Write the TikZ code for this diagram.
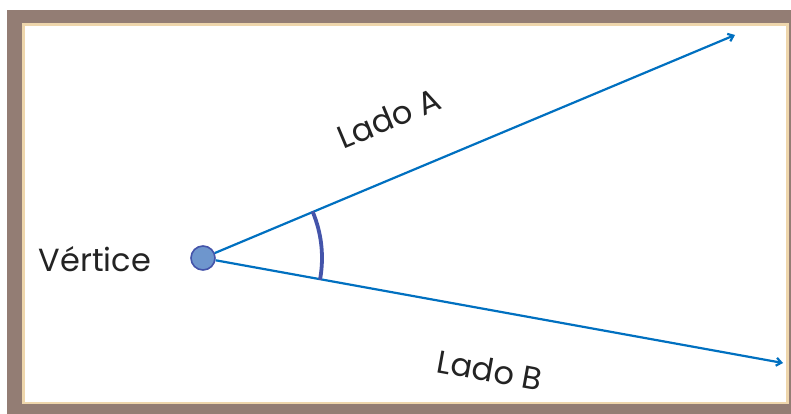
\documentclass[tikz,border=0pt]{standalone}
\usepackage{fontspec}
\setmainfont{Poppins}
\usetikzlibrary{arrows.meta,positioning,calc}
\definecolor{FrameBrown}{RGB}{147,125,116}
\definecolor{FrameCream}{RGB}{238,214,172}
\definecolor{SideBlue}{RGB}{0,112,192}
\definecolor{ArcIndigo}{RGB}{68,84,170}
\definecolor{VertexFill}{RGB}{110,150,205}
\definecolor{LabelInk}{RGB}{35,35,35}
\tikzset{
  ang/side/.style={-{Straight Barb[length=5pt,width=8pt]}, line width=2.2pt, draw=SideBlue},
  ang/arc/.style={line width=3.8pt, draw=ArcIndigo},
  ang/vertex/.style={circle, draw=ArcIndigo, line width=1.6pt, fill=VertexFill, minimum size=24pt, inner sep=0pt},
  ang/label/.style={font=\fontsize{32}{36}\selectfont, text=LabelInk, inner sep=0pt}
}
\begin{document}
\begin{tikzpicture}[x=1pt,y=1pt]
  \useasboundingbox (0,0) rectangle (791,414);
  % frame
  \fill[FrameBrown] (7,0) rectangle (791,404);
  \fill[FrameCream] (22,10) rectangle (789,391);
  \fill[white] (25,12) rectangle (786,388);
  % angle
  \node[ang/vertex] (v) at (203,156) {};
  \coordinate (endA) at (735,379);
  \coordinate (endB) at (783,51);
  \draw[ang/side] (v) -- (endA);
  \draw[ang/side] (v) -- (endB);
  \draw[ang/arc] ($(v.center)+(-10.5:119)$) arc[start angle=-10.5, end angle=23, radius=119];
  % labels
  \node[ang/label, rotate=22.7] (ladoA) at (389,296) {Lado A};
  \node[ang/label, rotate=-10.3] (ladoB) at (490,44) {Lado B};
  \node[ang/label] (vert) at (95,155) {Vértice};
\end{tikzpicture}
\end{document}
